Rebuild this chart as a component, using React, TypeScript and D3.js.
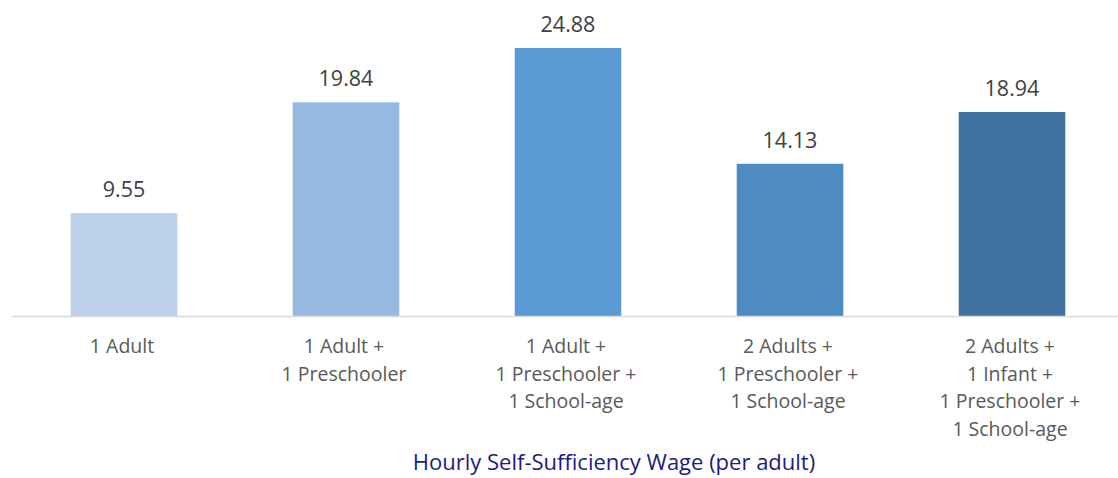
import React from "react";
import * as d3 from "d3";

// household types and their hourly wage
const categories = [
  ["1 Adult"],
  ["1 Adult +", "1 Preschooler"],
  ["1 Adult +", "1 Preschooler +", "1 School-age"],
  ["2 Adults +", "1 Preschooler +", "1 School-age"],
  ["2 Adults +", "1 Infant +", "1 Preschooler +", "1 School-age"],
];
const wages = [9.55, 19.84, 24.88, 14.13, 18.94];
const barColors = ["#BDD1EA", "#97B9E0", "#5B9BD5", "#4D8BC0", "#41729F"];
const title = "Hourly Self-Sufficiency Wage (per adult)";

export default function App() {
  const width = 1118;
  const height = 478;
  const baseY = 316;
  const left = 13;
  const right = 1123;

  const x = d3
    .scaleBand<number>()
    .domain(wages.map((_, i) => i))
    .range([left, right])
    .paddingInner(0.52)
    .paddingOuter(0.26);

  // 24.88 tops out near y=48
  const y = d3.scaleLinear().domain([0, 24.88]).range([baseY, 48]);

  const font = "'Open Sans', Lato, sans-serif";

  return (
    <svg
      width={width}
      height={height}
      style={{ position: "absolute", left: 0, top: 0 }}
      fontFamily={font}
    >
      {wages.map((v, i) => (
        <g key={i}>
          <rect
            x={x(i)}
            y={y(v)}
            width={x.bandwidth()}
            height={baseY - y(v)}
            fill={barColors[i]}
          />
          <text
            x={x(i)! + x.bandwidth() / 2}
            y={y(v) - 16}
            textAnchor="middle"
            fontSize={21.5}
            fill="#404040"
          >
            {v.toFixed(2)}
          </text>
          {categories[i].map((line, j) => (
            <text
              key={j}
              x={x(i)! + x.bandwidth() / 2 - 2}
              y={353 + j * 27.5}
              textAnchor="middle"
              fontSize={19.5}
              fill="#595959"
            >
              {line}
            </text>
          ))}
        </g>
      ))}
      <line x1={left - 1} x2={width} y1={baseY + 0.5} y2={baseY + 0.5} stroke="#D9D9D9" strokeWidth={1.5} />
      <text x={614} y={470} textAnchor="middle" fontSize={22} fill="#1C1C80">
        {title}
      </text>
    </svg>
  );
}
